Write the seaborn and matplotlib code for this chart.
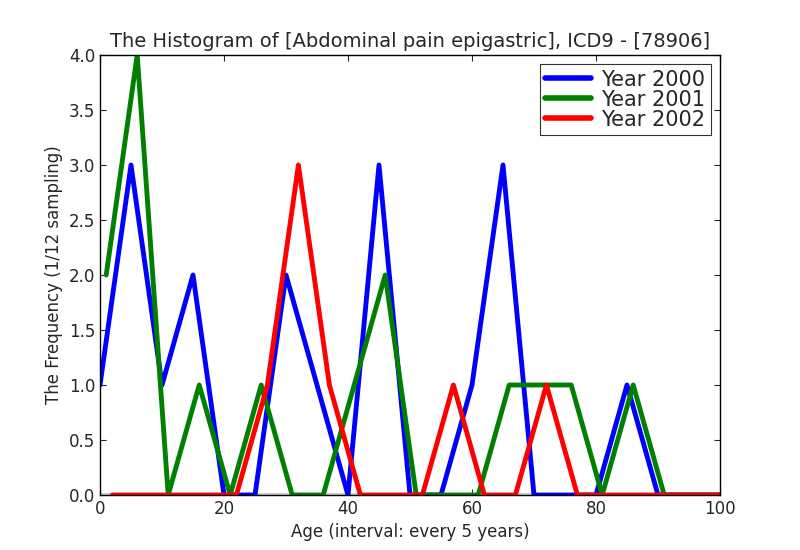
import numpy as np
import pandas as pd
import seaborn as sns
import matplotlib
matplotlib.use("Agg")
import matplotlib.pyplot as plt

# idades (inicio de cada intervalo de 5 anos)
idade_2000 = [0, 5, 10, 15, 20, 25, 30, 35, 40, 45, 50, 55, 60, 65, 70, 75, 80, 85, 90, 95, 100]
freq_2000 = [1, 3, 1, 2, 0, 0, 2, 1, 0, 3, 0, 0, 1, 3, 0, 0, 0, 1, 0, 0, 0]

idade_2001 = [1, 6, 11, 16, 21, 26, 31, 36, 41, 46, 51, 56, 61, 66, 71, 76, 81, 86, 91, 96, 101]
freq_2001 = [2, 4, 0, 1, 0, 1, 0, 0, 1, 2, 0, 0, 0, 1, 1, 1, 0, 1, 0, 0, 0]

idade_2002 = [2, 7, 12, 17, 22, 27, 32, 37, 42, 47, 52, 57, 62, 67, 72, 77, 82, 87, 92, 97, 102]
freq_2002 = [0, 0, 0, 0, 0, 1, 3, 1, 0, 0, 0, 1, 0, 0, 1, 0, 0, 0, 0, 0, 0]

anos = ["Year 2000", "Year 2001", "Year 2002"]
cores = ["blue", "green", "red"]

Base_dados = pd.concat([
    pd.DataFrame({"idade": idade_2000, "freq": freq_2000, "ano": anos[0]}),
    pd.DataFrame({"idade": idade_2001, "freq": freq_2001, "ano": anos[1]}),
    pd.DataFrame({"idade": idade_2002, "freq": freq_2002, "ano": anos[2]}),
])

sns.set_style("white")
plt.rcParams["font.family"] = ["DejaVu Sans"]

fig = plt.figure(figsize=(8, 5.5), dpi=100)
ax = fig.add_axes([0.125, 0.1, 0.775, 0.8])

ax.axhline(0, color="#cccccc", lw=3.5, zorder=1)
sns.lineplot(data=Base_dados, x="idade", y="freq", hue="ano",
             palette=cores, lw=3.5, ax=ax, zorder=2)

ax.set_xlim(0, 100)
ax.set_ylim(0, 4)
ax.set_xticks(np.arange(0, 101, 20))
ax.set_yticks(np.arange(0, 4.01, 0.5))
ax.tick_params(direction="in", length=4, width=0.8, labelsize=12,
               top=True, right=True, bottom=True, left=True)
for s in ax.spines.values():
    s.set_color("black")
    s.set_linewidth(1)

ax.set_title("The Histogram of [Abdominal pain epigastric], ICD9 - [78906]", fontsize=14)
ax.set_xlabel("Age (interval: every 5 years)", fontsize=12)
ax.set_ylabel("The Frequency (1/12 sampling)", fontsize=12)

leg = ax.legend(loc="upper right", fontsize=15, frameon=True, fancybox=False,
                borderaxespad=0.45, handlelength=2.2, labelspacing=0.0,
                borderpad=0.25, handletextpad=0.5)
leg.get_frame().set_edgecolor("black")
leg.get_frame().set_linewidth(0.8)
for l in leg.get_lines():
    l.set_linewidth(4)

fig.savefig("out.png", dpi=100)
